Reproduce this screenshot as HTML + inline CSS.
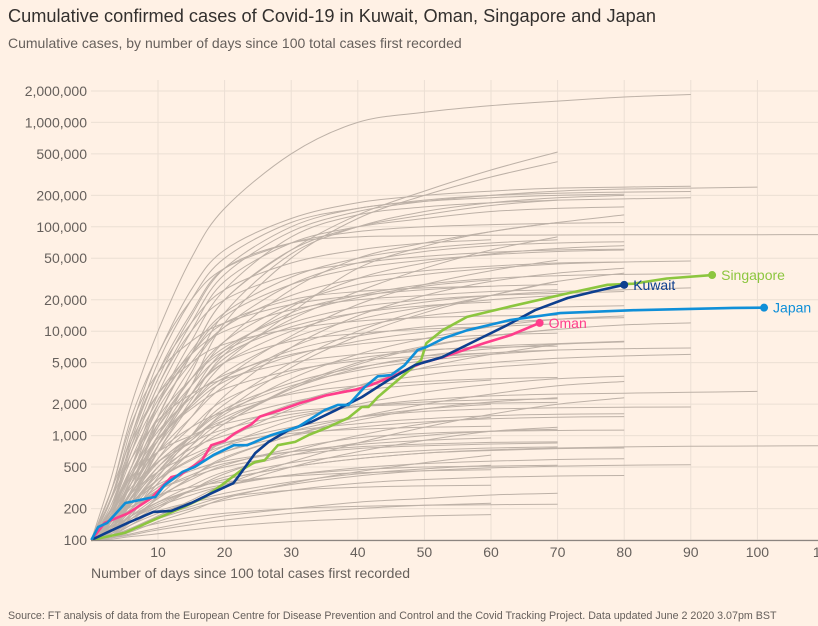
<!DOCTYPE html>
<html><head><meta charset="utf-8"><style>
body{margin:0;background:#fff1e5;width:818px;height:626px;overflow:hidden;font-family:"Liberation Sans",sans-serif}
svg{display:block}
</style></head><body>
<svg id="chart" width="818" height="626" viewBox="0 0 818 626">
<rect width="818" height="626" fill="#fff1e5"/>
<text x="8" y="22" font-size="18.2" fill="#33302e">Cumulative confirmed cases of Covid-19 in Kuwait, Oman, Singapore and Japan</text>
<text x="8" y="48" font-size="14" fill="#66605c">Cumulative cases, by number of days since 100 total cases first recorded</text>
<g id="grid"></g>
<g id="gray"></g>
<g id="hl"></g>
<g id="axes"></g>
<text x="91" y="578" font-size="14" fill="#66605c">Number of days since 100 total cases first recorded</text>
<text x="8" y="619" font-size="10.7" fill="#66605c">Source: FT analysis of data from the European Centre for Disease Prevention and Control and the Covid Tracking Project. Data updated June 2 2020 3.07pm BST</text>
</svg>
<script>
const xTicks=[10,20,30,40,50,60,70,80,90,100,110];
const yTicks=[100,200,500,1000,2000,5000,10000,20000,50000,100000,200000,500000,1000000,2000000];
const yTickLabels=["100","200","500","1,000","2,000","5,000","10,000","20,000","50,000","100,000","200,000","500,000","1,000,000","2,000,000"];
const grayDays=[0,3,6,10,15,20,30,40,50,60,70,80,90,100,110];
const graySeries=[
[100,400,2000,10000,50000,150000,500000,1000000,1250000,1450000,1600000,1750000,1850000],
[100,150,300,1500,6000,20000,60000,130000,220000,350000,520000],
[100,130,250,800,3000,12000,50000,120000,200000,300000,420000],
[100,300,1500,6000,25000,60000,120000,170000,200000,220000,235000,240000,245000],
[100,250,1000,5000,20000,50000,110000,150000,180000,200000,210000,215000,218000],
[100,200,700,3000,12000,35000,90000,140000,175000,200000,220000,230000,235000,240000],
[100,150,400,2000,8000,25000,80000,130000,155000,170000,180000,185000,190000],
[100,180,500,2500,10000,30000,70000,100000,120000,140000,150000,155000],
[100,160,400,1500,6000,20000,60000,100000,130000,160000,180000],
[100,140,300,1000,4000,15000,55000,100000,140000,170000,190000,200000],
[100,200,900,4000,15000,40000,70000,80000,82000,83000,83500,84000,84000,84000,84200],
[100,150,350,1000,3000,8000,25000,50000,70000,90000,110000,130000],
[100,130,250,700,2000,5000,15000,40000,65000,90000,110000],
[100,200,600,2000,6000,14000,28000,40000,48000,54000,58000,60000],
[100,180,500,1800,5000,11000,22000,32000,38000,42000,45000,46000],
[100,150,350,1200,3500,8000,18000,28000,35000,40000,44000,46000,47000],
[100,130,250,600,1500,3500,9000,18000,28000,38000,48000],
[100,250,800,2500,6000,10000,16000,20000,22000,24000,25000],
[100,200,500,1500,3500,6500,12000,17000,20000,22000,23000,24000],
[100,150,300,900,2500,5000,10000,15000,19000,22000,24000,25000,26000],
[100,120,200,450,1000,2000,5000,10000,16000,22000,30000],
[100,140,280,700,1500,3000,7000,11000,14000,16000,17000,17500],
[100,300,900,2500,5000,7500,10500,12500,13500,14000,14200],
[100,160,350,900,2000,3600,6500,9000,11000,12000,13000,13500],
[100,130,220,450,900,1600,3500,6000,8500,11000,13000,14000],
[100,200,450,1100,2300,3800,6000,7500,8500,9200,9600],
[100,150,280,600,1200,2200,4000,5500,6500,7200,7600,8000],
[100,120,180,350,700,1300,2800,4800,7000,9000,10500],
[100,250,600,1400,2500,3500,5000,6000,6600,7000,7200],
[100,140,250,500,900,1500,2600,3600,4400,5000,5500,5800,6000],
[100,130,200,380,700,1100,2000,3000,3800,4500,5000],
[100,180,350,700,1200,1700,2500,3000,3300,3500,3600],
[100,120,180,300,500,800,1400,2000,2600,3100,3500,3700],
[100,150,250,450,750,1000,1500,1900,2200,2400,2500,2550,2600,2650],
[100,120,160,250,400,600,1000,1400,1800,2100,2300],
[100,200,400,700,1000,1300,1700,1900,2000,2050,2080],
[100,130,200,320,500,700,1000,1200,1350,1450,1500,1520],
[100,110,140,200,300,430,700,1000,1300,1500],
[100,160,280,450,650,850,1050,1150,1200,1230],
[100,120,170,260,380,520,750,950,1050,1100,1120,1130],
[100,110,130,170,230,320,500,700,900,1100,1200],
[100,140,200,300,400,500,650,750,800,830,850],
[100,115,150,210,300,400,550,650,720,760,780],
[100,105,120,150,190,250,350,450,550,650],
[100,130,170,230,290,340,420,470,500,510,520],
[100,110,130,160,200,240,300,350,380,400,410,415],
[100,120,150,190,230,260,300,320,330,335],
[100,105,115,130,150,170,200,230,250,270,280],
[100,110,125,145,165,180,200,210,215,218,220],
[100,102,108,115,125,135,150,160,170,175],
[100,150,300,800,2500,5000,8000,9500,10500,11000],
[100,170,500,2000,6000,12000,20000,24000,26000,27000],
[100,130,250,800,2500,6500,15000,22000,28000,32000,34000,35000,35500],
[100,200,700,3000,10000,20000,35000,45000,52000,57000,60000,61000],
[100,250,1200,6000,20000,40000,70000,90000,100000,105000,108000,110000],
[100,300,1300,4000,8000,12000,18000,22000,25000,27000,28000],
[100,160,350,1000,2500,5500,13000,24000,40000,60000,80000],
[100,120,180,350,800,1700,4500,9000,15000,22000,30000,36000],
[100,130,230,500,1000,1800,3200,4500,5500,6200,6600,6800,6900],
[100,110,150,260,500,900,1800,3000,4500,6000,7500],
[100,115,160,250,400,620,1000,1500,2000,2500,3000,3300],
[100,140,220,380,600,850,1200,1500,1700,1800,1850,1870,1880],
[100,120,160,220,300,380,500,600,680,730,760,780,790,795,800],
[100,105,112,125,140,155,180,200,215,225],
[100,180,450,1300,3500,7000,14000,21000,27000,31000],
[100,220,700,2200,6500,15000,33000,50000,62000,70000,75000],
[100,170,420,1200,3000,6000,11000,15000,17500,19000],
[100,140,300,800,2000,4000,8500,13000,17000,20000,22000],
[100,160,380,900,1900,3300,5800,8000,9800,11000,11800],
[100,190,420,950,1800,2800,4200,5200,5800,6200],
[100,130,260,550,1000,1700,3000,4200,5200,6000,6600],
[100,150,290,560,950,1400,2100,2700,3100,3400],
[100,170,320,560,850,1150,1600,1900,2100,2200,2250],
[100,125,190,300,480,700,1100,1500,1800,2000],
[100,140,230,380,580,800,1100,1300,1450,1550,1600,1620],
[100,115,160,230,330,450,650,850,1000,1100,1150],
[100,135,200,300,420,540,700,820,900,950],
[100,150,230,340,460,570,700,780,830,860,870],
[100,120,160,210,270,330,420,490,540,570,590,600],
[100,110,140,180,230,280,360,430,480,520],
[100,150,210,270,320,360,410,440,460,470],
[100,125,170,230,300,380,500,600,680,720,750,760],
[100,260,1000,4000,12000,25000,45000,60000,70000,75000],
[100,140,350,1300,4500,11000,28000,45000,58000,66000,70000,72000],
[100,120,230,700,2200,6000,17000,32000,45000,55000,62000,66000],
[100,200,800,3500,14000,40000,100000,150000,175000,190000,200000,205000],
[100,110,170,400,1000,2400,7000,14000,22000,30000,36000,40000],
[100,115,180,350,700,1300,2900,5000,7200,9000,10400,11500,12000],
[100,130,220,420,800,1400,2800,4400,5800,6800,7500,7900],
[100,105,125,170,240,340,560,850,1200,1600,2000,2300],
[100,108,130,165,210,260,340,410,460,490,510,520,525]
];
const japanDays=[0,1,2.4,5.1,8.6,9.6,11,13.7,15.5,18.3,21.4,23.4,27,31,35,37,38.6,41,43,45,47,49,50.3,53,56.4,62.9,70.4,81.4,96.4,101];
const japanVals=[100,133,146,226,252,258,336,450,500,650,810,810,1010,1210,1750,1970,1970,2900,3700,3800,4700,6600,7050,8600,10200,12800,14900,15900,16700,16800];
const kuwaitDays=[0,2.2,5.5,9.3,12,15,18,21.3,22,24.6,26.6,29.6,33,36.7,40.6,44.6,48.6,52.7,58.5,62.5,66.6,71.5,76.5,80];
const kuwaitVals=[100,117,146,186,190,226,280,350,400,680,870,1130,1350,1750,2340,3400,4750,5650,8600,11500,15900,20800,24800,27800];
const singaporeDays=[0,5,10,13.5,17,19.6,22.6,24.6,26,28,30.6,32.6,35.6,38.6,40.6,41.6,43,46,49.5,50.3,52.7,56.4,62.5,71.5,77.5,81.4,86.4,93.2];
const singaporeVals=[100,117,162,202,257,337,470,560,580,810,870,1010,1210,1480,1880,1880,2340,3400,5300,7700,10200,13700,17000,23000,27800,28500,32000,34500];
const omanDays=[0,2,5.5,9,12,13.3,16.6,18,20,21.6,24,25.3,28.3,31.3,35.3,39.6,42,45.6,49.6,53,59,63,67.3];
const omanVals=[100,146,180,252,400,420,580,810,890,1060,1280,1520,1750,2050,2430,2750,3050,3800,4960,5700,7700,9200,12000];

const NS="http://www.w3.org/2000/svg";
const X0=91.4,PX=6.66,Y0=540,PD=104.4;
const xs=d=>X0+d*PX;
const ys=v=>Y0-(Math.log10(v)-2)*PD;
function mk(tag,attrs,parent){const e=document.createElementNS(NS,tag);for(const k in attrs)e.setAttribute(k,attrs[k]);parent.appendChild(e);return e;}
function smooth(P){
  if(P.length<3)return 'M'+P.map(p=>p[0].toFixed(1)+','+p[1].toFixed(1)).join('L');
  let d='M'+P[0][0].toFixed(1)+','+P[0][1].toFixed(1);
  for(let i=0;i<P.length-1;i++){
    const p0=P[Math.max(0,i-1)],p1=P[i],p2=P[i+1],p3=P[Math.min(P.length-1,i+2)];
    const c1x=p1[0]+(p2[0]-p0[0])/6,c1y=p1[1]+(p2[1]-p0[1])/6;
    const c2x=p2[0]-(p3[0]-p1[0])/6,c2y=p2[1]-(p3[1]-p1[1])/6;
    d+='C'+c1x.toFixed(1)+','+c1y.toFixed(1)+' '+c2x.toFixed(1)+','+c2y.toFixed(1)+' '+p2[0].toFixed(1)+','+p2[1].toFixed(1);
  }
  return d;
}
const grid=document.getElementById('grid'),axes=document.getElementById('axes'),gray=document.getElementById('gray'),hl=document.getElementById('hl');
yTicks.forEach((t,i)=>{
  const l=mk('line',{x1:91,x2:818,y1:ys(t),y2:ys(t),stroke:'#ebdfd4','stroke-width':1},grid);
  
  
  const tx=mk('text',{x:87,y:ys(t)+5,'font-size':14,fill:'#66605c','text-anchor':'end'},axes);
  tx.textContent=yTickLabels[i];
  
  
});
xTicks.forEach(t=>{
  const l=mk('line',{x1:xs(t),x2:xs(t),y1:80,y2:540,stroke:'#ebdfd4','stroke-width':1},grid);
  
  
  const tx=mk('text',{x:xs(t),y:557,'font-size':14,fill:'#66605c','text-anchor':'middle'},axes);
  tx.textContent=t;
  
  
});
const ax=mk('line',{x1:91,x2:818,y1:540.5,y2:540.5,stroke:'#8c8580','stroke-width':1.2},axes);


graySeries.forEach(vals=>{
  const P=vals.map((v,i)=>[xs(grayDays[i]),ys(v)]);
  const p=mk('path',{d:smooth(P),fill:'none',stroke:'#bdb1a7','stroke-width':1},gray);
  
  
});
const hls=[
 {n:'oman',d:omanDays,v:omanVals,c:'#ff3d8b',lab:'Oman'},
 {n:'singapore',d:singaporeDays,v:singaporeVals,c:'#8cc63f',lab:'Singapore'},
 {n:'kuwait',d:kuwaitDays,v:kuwaitVals,c:'#0d3f8f',lab:'Kuwait'},
 {n:'japan',d:japanDays,v:japanVals,c:'#0f8fd8',lab:'Japan'}
];
hls.forEach(s=>{
  const pts=s.d.map((d,i)=>xs(d).toFixed(1)+','+ys(s.v[i]).toFixed(1)).join(' ');
  const p=mk('polyline',{points:pts,fill:'none',stroke:s.c,'stroke-width':2.6,'stroke-linejoin':'round'},hl);
  
  
  const lx=xs(s.d[s.d.length-1]),ly=ys(s.v[s.v.length-1]);
  const c=mk('circle',{cx:lx,cy:ly,r:4,fill:s.c},hl);
  
  
  const t=mk('text',{x:lx+9,y:ly+5,'font-size':14,fill:s.c},hl);
  t.textContent=s.lab;
  
  
});
</script>
</body></html>
